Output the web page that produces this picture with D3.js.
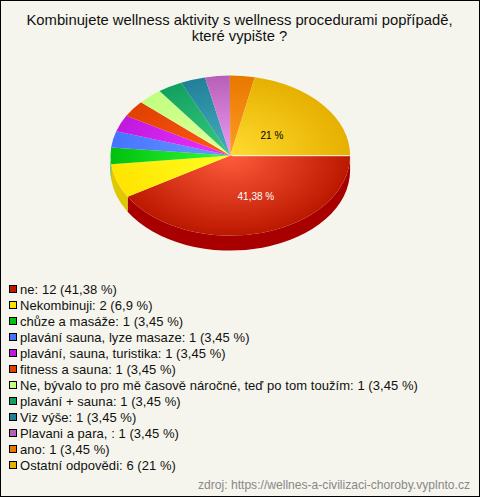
<!DOCTYPE html>
<html><head><meta charset="utf-8">
<script src="https://cdn.jsdelivr.net/npm/d3@7/dist/d3.min.js"></script>
<style>html,body{margin:0;padding:0;background:#f5f5ed}svg{display:block}text{font-family:"Liberation Sans",Arial,sans-serif}</style>
</head><body><svg id="c" width="480" height="497"></svg>
<script>
(function(){
const titleLines = ["Kombinujete wellness aktivity s wellness procedurami popřípadě,", "které vypište ?"];
const categories = ["ne","Nekombinuji","chůze a masáže","plavání sauna, lyze masaze","plavání, sauna, turistika","fitness a sauna","Ne, bývalo to pro mě časově náročné, teď po tom toužím","plavání + sauna","Viz výše","Plavani a para, ","ano","Ostatní odpovědi"];
const counts = [12,2,1,1,1,1,1,1,1,1,1,6];
const shares = ["41,38","6,9","3,45","3,45","3,45","3,45","3,45","3,45","3,45","3,45","3,45","21"];
// slice sweeps as drawn in the picture, in degrees
const sliceSweeps = [149,24.8,12,12,12,12,12,12,12,12,12,78.2];
const edgeColors = ["#bb1800","#ffe400","#00c010","#4474ff","#c018e0","#e04000","#c0ff80","#12a060","#208098","#b860b8","#e87800","#e6b000"];
const innerColors = ["#ff5c3c","#ffff22","#33ff33","#6a9aff","#ee33ff","#ff5a1a","#e4ff9c","#38cc7c","#48aebe","#ec9cf4","#ff9c24","#ffdc30"];
const sideColors = ["#a80000","#e0c800","#00a010","#3460d0","#a010c0","#c03000","#a0d870","#0c8850","#186880","#984c98","#c86400","#c89800"];
const source = "zdroj: https://wellnes-a-civilizaci-choroby.vyplnto.cz";

const svg = d3.select("#c");
svg.append("rect").attr("x",.5).attr("y",.5).attr("width",479).attr("height",496).attr("fill","#f5f5ed").attr("stroke","#000");

svg.selectAll(".t").data(titleLines).join("text").attr("class","t")
  .attr("x",239.5).attr("y",(d,i)=>25+i*15.5).attr("text-anchor","middle").attr("font-size",14.8).attr("fill","#111").text(d=>d);

const cx=230.3, cy=155.6, R=119.8, squash=80/119.8, depth=15;
const defs = svg.append("defs");
categories.forEach((c,i)=>{
  const g=defs.append("radialGradient").attr("id","g"+i).attr("gradientUnits","userSpaceOnUse").attr("cx",0).attr("cy",0).attr("r",R);
  g.append("stop").attr("offset",0.0).attr("stop-color",innerColors[i]);
  g.append("stop").attr("offset",1).attr("stop-color",edgeColors[i]);
});
const pie = d3.pie().sort(null).value(d=>d).startAngle(Math.PI/2).endAngle(Math.PI/2+2*Math.PI);
const arcs = pie(sliceSweeps);
const arc = d3.arc().innerRadius(0).outerRadius(R);

// side wall: only the part of every slice that faces the viewer
const chart = svg.append("g").attr("transform",`translate(${cx},${cy})`);
const pt = a=>[R*Math.sin(a), -R*Math.cos(a)*squash];
arcs.forEach((s,i)=>{
  const a0=Math.max(s.startAngle,Math.PI/2), a1=Math.min(s.endAngle,3*Math.PI/2);
  if(a1<=a0) return;
  const [x0,y0]=pt(a0),[x1,y1]=pt(a1);
  chart.append("path").attr("fill",sideColors[i])
    .attr("d",`M${x0},${y0}A${R},${R*squash} 0 0 1 ${x1},${y1}L${x1},${y1+depth}A${R},${R*squash} 0 0 0 ${x0},${y0+depth}Z`);
});
const face = chart.append("g").attr("transform",`scale(1,${squash})`);
face.selectAll("path").data(arcs).join("path").attr("d",arc).attr("fill",(d,i)=>`url(#g${i})`);
// pale seam where the last slice meets the first
const seam = pt(Math.PI/2);
chart.append("line").attr("x1",2).attr("y1",0).attr("x2",seam[0]).attr("y2",seam[1]).attr("stroke","#fff").attr("stroke-opacity",.75).attr("stroke-width",1.2);

const labelled=[{i:0,k:[.8,.525],fill:"#fff"},{i:11,k:[.448,.407],fill:"#000"}];
labelled.forEach(l=>{
  const m=(arcs[l.i].startAngle+arcs[l.i].endAngle)/2, p=pt(m);
  chart.append("text").attr("x",p[0]*l.k[0]).attr("y",p[1]*l.k[1]+3.5).attr("text-anchor","middle")
    .attr("font-size",10).attr("fill",l.fill).text(shares[l.i]+" %");
});

const leg = svg.selectAll(".l").data(categories).join("g").attr("class","l").attr("transform",(d,i)=>`translate(0,${289+i*16})`);
leg.append("rect").attr("x",9.5).attr("y",-3.5).attr("width",7).attr("height",7).attr("fill",(d,i)=>edgeColors[i]).attr("stroke","#000");
leg.append("text").attr("x",20).attr("y",4.5).attr("font-size",13).attr("letter-spacing",.05).attr("fill","#111")
  .text((d,i)=>`${d}: ${counts[i]} (${shares[i]} %)`);
svg.append("text").attr("x",470).attr("y",488.5).attr("text-anchor","end").attr("font-size",12.1).attr("fill","#888").text(source);
})();
</script></body></html>
